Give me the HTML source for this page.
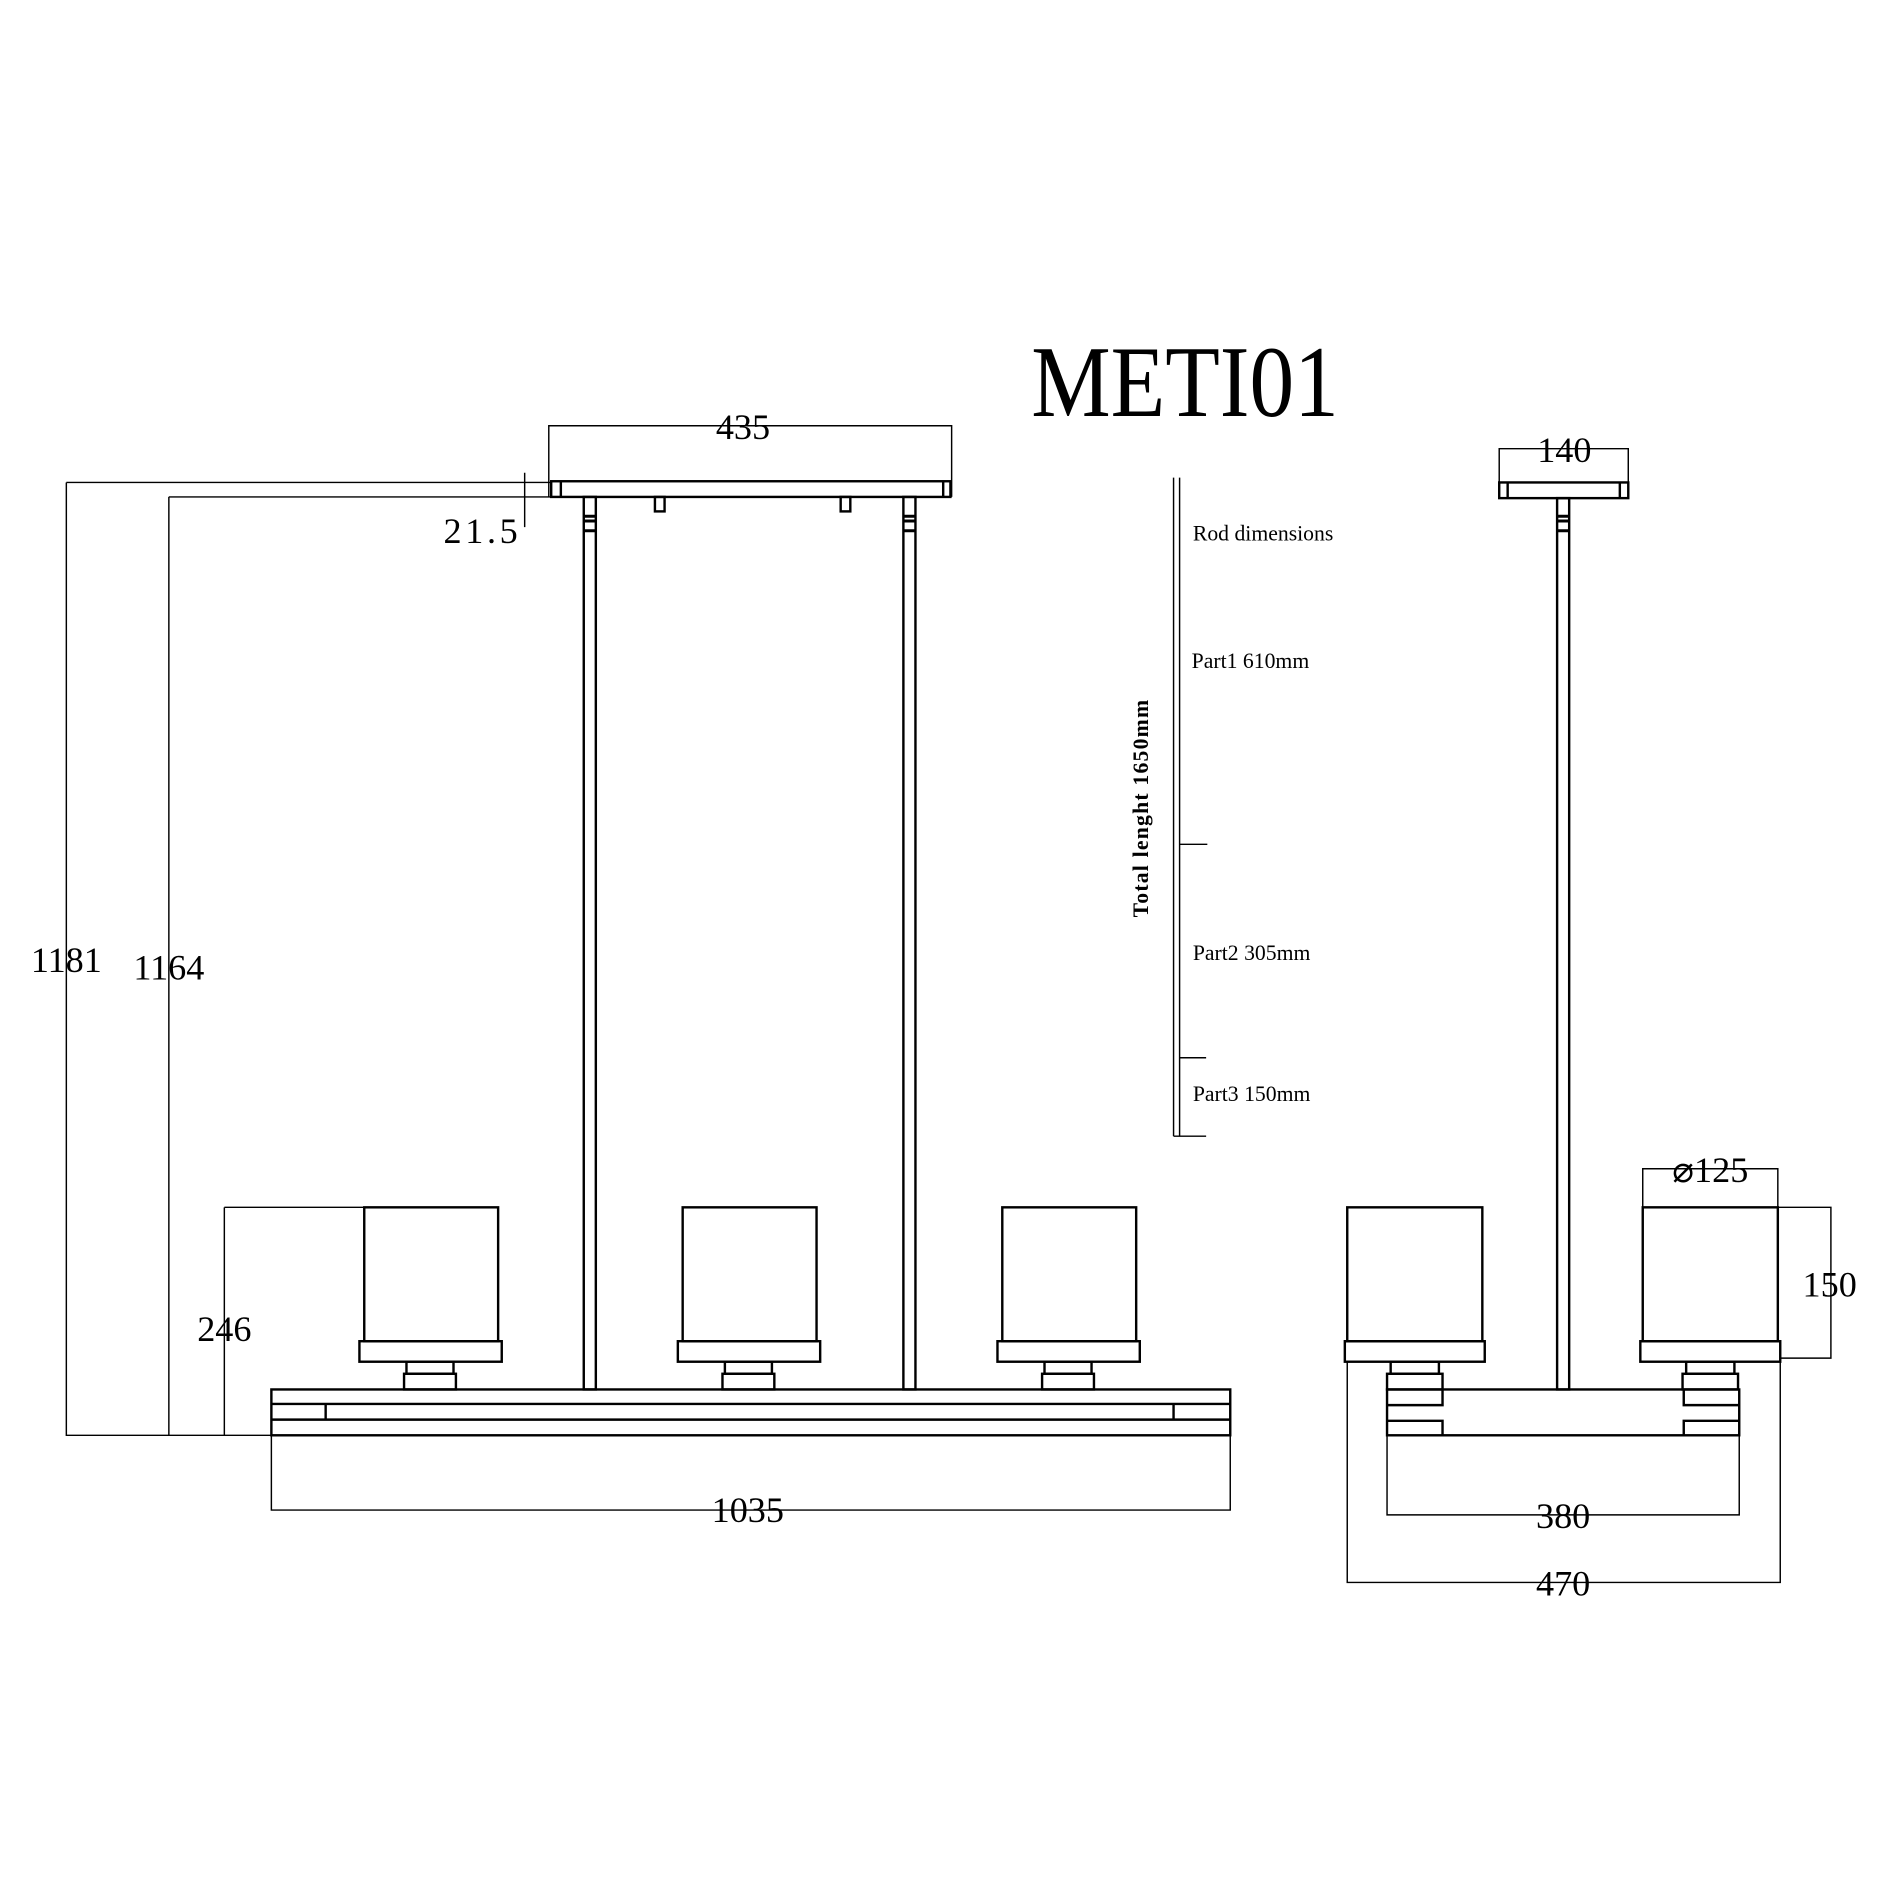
<!DOCTYPE html>
<html><head><style>html,body{margin:0;padding:0;background:#fff}svg{display:block}</style></head><body>
<svg width="1890" height="1890" viewBox="0 0 1567 1567" xmlns="http://www.w3.org/2000/svg" fill="none" stroke="#000" stroke-width="1.6">
<rect x="0" y="0" width="1567" height="1567" fill="#fff" stroke="none"/>
<g font-family="Liberation Serif, serif" fill="#000" stroke="none">
<text x="855" y="345" font-size="84" textLength="255" lengthAdjust="spacingAndGlyphs">METI01</text>
<text x="616" y="364" font-size="30" text-anchor="middle">435</text>
<text x="400" y="450" font-size="30" text-anchor="middle" letter-spacing="3">21.5</text>
<text x="55" y="806" font-size="30" text-anchor="middle">1181</text>
<text x="140" y="812" font-size="30" text-anchor="middle">1164</text>
<text x="186" y="1112" font-size="30" text-anchor="middle">246</text>
<text x="620" y="1262" font-size="30" text-anchor="middle">1035</text>
<text x="1297" y="383" font-size="30" text-anchor="middle">140</text>
<text x="1418" y="980" font-size="30" text-anchor="middle">⌀125</text>
<text x="1517" y="1075" font-size="30" text-anchor="middle">150</text>
<text x="1296" y="1267" font-size="30" text-anchor="middle">380</text>
<text x="1296" y="1323" font-size="30" text-anchor="middle">470</text>
<text x="989" y="448" font-size="18">Rod dimensions</text>
<text x="988" y="554" font-size="18">Part1 610mm</text>
<text x="989" y="796" font-size="18">Part2 305mm</text>
<text x="989" y="913" font-size="18">Part3 150mm</text>
<text transform="translate(952,670) rotate(-90)" font-size="18" font-weight="bold" text-anchor="middle" letter-spacing="1">Total lenght 1650mm</text>
</g>
<g stroke-width="1.2">
<path d="M455 412V353H789V412"/>
<path d="M55 400H457M140 412H457M435 392V437M55 400V1190H225M140 412V1190M186 1001V1190M186 1001H302"/>
<path d="M225 1190V1252H1020V1190"/>
<path d="M1243 413V372H1350V413"/>
<path d="M1362 1001V969H1474V1001"/>
<path d="M1474 1001H1518V1126H1476"/>
<path d="M1150 1190V1256H1442V1190"/>
<path d="M1117 1129V1312H1476V1129"/>
<path d="M973 396V942M978 396V942M973 942H1000M978 700H1001M978 877H1000"/>
</g>
<g stroke-width="2">
<rect x="457" y="399" width="331" height="13"/>
<path d="M465 399V412M782 399V412"/>
<rect x="543" y="412" width="8" height="12"/>
<rect x="697" y="412" width="8" height="12"/>
<rect x="484" y="412" width="10" height="740"/>
<rect x="749" y="412" width="10" height="740"/>
<path d="M484 428H494M484 432H494M484 440H494M749 428H759M749 432H759M749 440H759" stroke-width="2.5"/>
<rect x="225" y="1152" width="795" height="38"/>
<path d="M225 1164H1020M225 1177H1020M270 1164V1177M973 1164V1177"/>
<g id="sh">
<rect x="302" y="1001" width="111" height="111"/>
<rect x="298" y="1112" width="118" height="17"/>
<rect x="337" y="1129" width="39" height="10"/>
<rect x="335" y="1139" width="43" height="13"/>
</g>
<use href="#sh" x="264"/>
<use href="#sh" x="529"/>
<rect x="1243" y="400" width="107" height="13"/>
<path d="M1250 400V413M1343 400V413"/>
<rect x="1291" y="413" width="10" height="739"/>
<path d="M1291 428H1301M1291 432H1301M1291 440H1301" stroke-width="2.5"/>
<g id="sr">
<rect x="1117" y="1001" width="112" height="111"/>
<rect x="1115" y="1112" width="116" height="17"/>
<rect x="1153" y="1129" width="40" height="10"/>
<rect x="1150" y="1139" width="46" height="13"/>
</g>
<use href="#sr" x="245"/>
<rect x="1150" y="1152" width="292" height="38"/>
<path d="M1150 1165H1196V1152M1150 1178H1196V1190M1442 1165H1396V1152M1442 1178H1396V1190"/>
</g>
</svg>
</body></html>
